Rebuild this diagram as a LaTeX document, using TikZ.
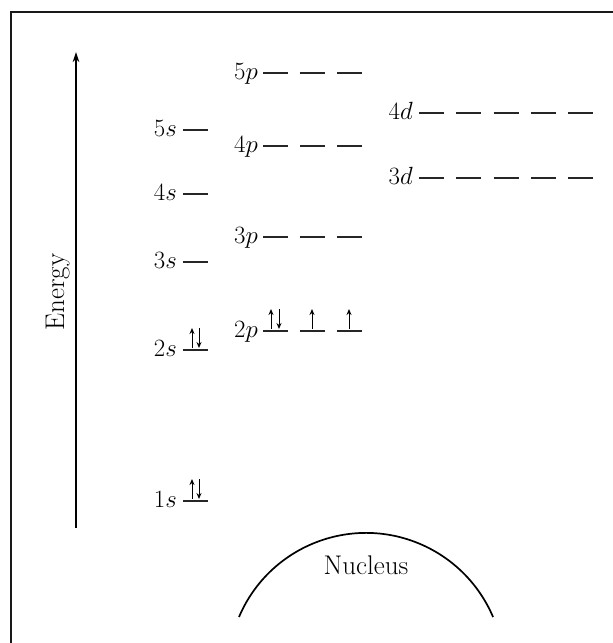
\documentclass[tikz,border=0pt]{standalone}
\usetikzlibrary{arrows.meta}
\begin{document}
\begin{tikzpicture}[x=1pt,y=-1pt,
  lvl/.style={line width=1.5pt, draw=black!85},
  lab/.style={anchor=base east, inner sep=0pt, font=\fontsize{27}{32}\selectfont},
  el/.style={line width=1pt, -{Stealth[length=6pt,width=5pt]}},
  frame/.style={line width=2.6pt, draw=black!90},
  axis/.style={line width=1.1pt, -{Stealth[length=10pt,width=6.5pt]}},
  txt/.style={inner sep=0pt, font=\fontsize{27}{32}\selectfont}
]
\useasboundingbox (0,0) rectangle (613,643);
\draw[frame] (11,643) -- (11,12) -- (613,12);
% energy axis
\coordinate (ebot) at (76,528);
\coordinate (etop) at (76,52);
\draw[axis] (ebot) -- (etop);
\node[txt, rotate=90, anchor=base] (energy) at (64,292) {Energy};
% s levels
\foreach \n/\y in {1/501,2/350,3/262,4/194,5/130}{
  \draw[lvl] (183,\y) -- (208,\y);
  \node[lab] (s\n) at (177,\y+6) {$\n s$};
}
% p levels
\foreach \n/\y in {2/331,3/237,4/146,5/73}{
  \foreach \k in {0,1,2}{
    \draw[lvl] (263+37*\k,\y) -- (288+37*\k,\y);
  }
  \node[lab] (p\n) at (258,\y+6) {$\n p$};
}
% d levels
\foreach \n/\y in {3/178,4/113}{
  \foreach \k in {0,...,4}{
    \draw[lvl] (419+37.3*\k,\y) -- (444+37.3*\k,\y);
  }
  \node[lab] (d\n) at (413,\y+6) {$\n d$};
}
% electrons
\foreach \y in {501,350}{
  \draw[el] (192,\y-2) -- (192,\y-22);
  \draw[el] (199,\y-22) -- (199,\y-2);
}
\draw[el] (271,329) -- (271,309);
\draw[el] (279,309) -- (279,329);
\draw[el] (312,329) -- (312,309);
\draw[el] (349,329) -- (349,309);
% nucleus
\draw[line width=1.7pt] (239,617) arc[start angle=203, end angle=337, radius=138];
\node[txt] (nucleus) at (366,565) {Nucleus};
\end{tikzpicture}
\end{document}
